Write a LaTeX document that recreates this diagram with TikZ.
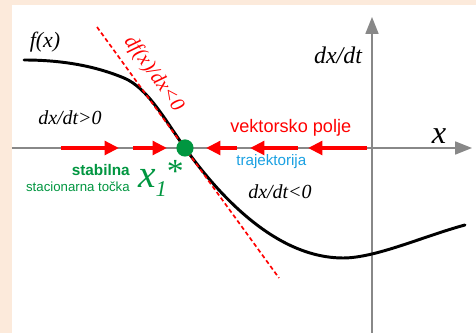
\documentclass[tikz,border=0pt]{standalone}
\usepackage{fontspec}
\setmainfont{Liberation Serif}
\setsansfont{Liberation Sans}
\usetikzlibrary{arrows.meta, positioning, calc}
\definecolor{pozadina}{RGB}{252,234,219}
\definecolor{os}{RGB}{136,136,136}
\definecolor{zelena}{RGB}{0,150,64}
\definecolor{plava}{RGB}{27,161,226}
\definecolor{crvena}{RGB}{255,0,0}

\begin{document}
\begin{tikzpicture}[
    osi/.style={os, line width=1.4pt, -{Triangle[length=4.2mm,width=3.2mm]}},
    polje/.style={crvena, line width=2.8pt, -{Triangle[length=3.6mm,width=3.4mm]}},
    oznaka/.style={inner sep=0pt, font=\itshape},
  ]
    \useasboundingbox (-9.3,-4.625) rectangle (2.6,3.7);
    \fill[pozadina] (-9.3,-4.625) rectangle (2.6,3.7);
    \fill[white] (-9.0,-4.625) rectangle (2.6,3.575);

    % osi
    \draw[osi] (-9.0,0) -- (2.5,0);
    \draw[osi] (0,-4.625) -- (0,3.275);
    \node[oznaka, font=\fontsize{23}{23}\selectfont\itshape] (xos) at (1.675,0.31) {x};
    \node[oznaka, font=\fontsize{17}{17}\selectfont\itshape] (yos) at (-0.85,2.325) {dx/dt};

    % vektorsko polje
    \foreach \rep/\vrh in {-7.775/-6.325, -5.975/-5.125, -3.375/-4.15, -1.85/-3.05, -0.125/-1.6}
      \draw[polje] (\rep,0) -- (\vrh,0);

    % f(x)
    \draw[line width=2.1pt, line cap=round]
      (-8.7,2.2) .. controls (-7.6,2.2) and (-6.8,2.0) .. (-6.2,1.75)
      .. controls (-5.6,1.5) and (-5.15,0.66) .. (-4.675,0)
      .. controls (-3.7,-1.36) and (-2.3,-2.75) .. (-0.725,-2.75)
      .. controls (0.1,-2.75) and (1.3,-2.2) .. (2.325,-1.925);
    \node[oznaka, font=\fontsize{15.6}{16}\selectfont\itshape] (fx) at (-8.175,2.65) {f(x)};

    % tangenta
    \coordinate (t1) at (-6.875,3.025);
    \coordinate (t2) at (-2.325,-3.25);
    \draw[crvena, line width=1.2pt, densely dashed] (t1) -- (t2)
      node[pos=0.23, sloped, above=0.2cm, font=\fontsize{14.5}{15}\selectfont\itshape, inner sep=0pt] (nagib) {df(x)/dx<0};

    % stacionarna tocka
    \node[circle, fill=zelena, minimum size=4.3mm, inner sep=0pt] (x1) at (-4.675,0) {};

    \node[oznaka, font=\fontsize{14.2}{15}\selectfont\itshape] (plus) at (-7.55,0.75) {dx/dt>0};
    \node[oznaka, font=\fontsize{14.2}{15}\selectfont\itshape] (minus) at (-2.3,-1.1) {dx/dt<0};

    \node[anchor=base west, inner sep=0pt, text=crvena, font=\sffamily\fontsize{12.9}{14}\selectfont] (vp) at (-3.55,0.375) {vektorsko polje};
    \node[anchor=base west, inner sep=0pt, text=plava, font=\sffamily\fontsize{10.8}{12}\selectfont] (traj) at (-3.4,-0.45) {trajektorija};

    \node[anchor=base east, inner sep=0pt, text=zelena, font=\sffamily\bfseries\fontsize{10.9}{12}\selectfont] (stab) at (-6.05,-0.7) {stabilna};
    \node[anchor=base east, inner sep=0pt, text=zelena, font=\sffamily\fontsize{9.4}{11}\selectfont] (stac) at (-6.05,-1.1) {stacionarna točka};
    \node[anchor=base west, inner sep=0pt, text=zelena, font=\fontsize{28}{28}\selectfont\itshape] (x1lab) at (-5.85,-1.0)
      {x\raisebox{-0.22em}{\fontsize{16}{16}\selectfont 1}\raisebox{0.15em}{\fontsize{24}{24}\selectfont\upshape *}};
\end{tikzpicture}
\end{document}
